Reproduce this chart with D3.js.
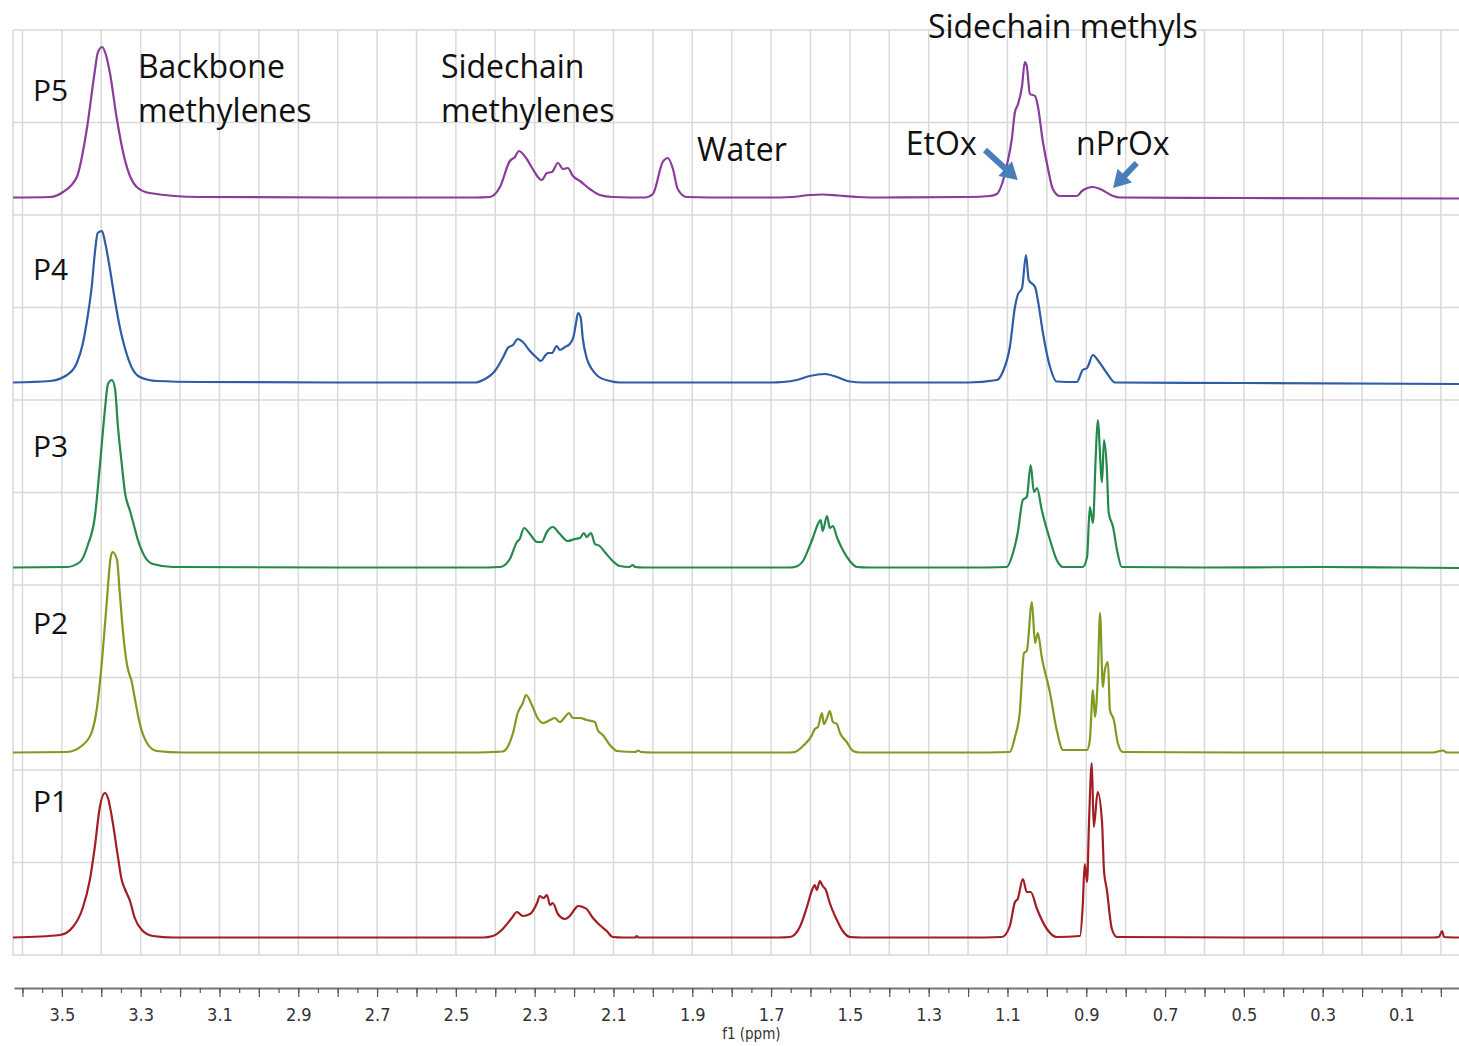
<!DOCTYPE html>
<html><head><meta charset="utf-8">
<script src="https://cdn.jsdelivr.net/npm/d3@7"></script>
<style>
html,body{margin:0;padding:0;background:#fff;}
svg{display:block;}
</style></head>
<body>
<svg id="chart" width="1459" height="1046"></svg>
<script>
// 1H NMR spectra of samples P1–P5 (stacked), points are [shift (ppm), intensity (a.u.)]
const sampleNames = ["P5", "P4", "P3", "P2", "P1"];
const sampleColors = ["#8a3c9c", "#2f5ca6", "#24894b", "#7f9b22", "#a11f22"];

const spectrumP5 = [
  [3.624,0.5],[3.53,1],[3.497,6],[3.462,21],[3.437,68],[3.416,128],[3.409,145],[3.398,151],[3.388,143],
  [3.378,125],[3.360,78],[3.340,38],[3.310,11],[3.277,5],[3.150,1],[2.80,0.5],[2.45,0.5],
  [2.414,1],[2.388,11],[2.363,37],[2.350,41],[2.340,47],[2.320,39],[2.305,29],[2.282,18],[2.269,25],
  [2.256,26],[2.241,35],[2.228,29],[2.216,30],[2.203,22],[2.185,17],[2.160,9],[2.135,3],[2.102,1],[2.02,0.5],
  [2.000,4],[1.975,36],[1.962,40],[1.949,29],[1.937,9],[1.914,1],[1.80,0.5],
  [1.70,0.5],[1.65,1],[1.60,3],[1.57,3.5],[1.53,2.5],[1.48,1],[1.42,0.5],
  [1.20,1],[1.145,2],[1.127,4],[1.114,14],[1.102,32],[1.089,59],[1.081,86],[1.074,93],[1.063,112],
  [1.056,136],[1.051,132],[1.043,104],[1.030,102],[1.023,92],[1.010,56],[0.997,29],[0.985,9],[0.967,2],
  [0.924,2],[0.911,7],[0.883,11],[0.865,9],[0.832,2],[0.815,0.5],[0.50,0],[-0.046,-0.5]
];
const spectrumP4 = [
  [3.624,0.5],[3.53,2],[3.487,8],[3.462,20],[3.447,39],[3.434,68],[3.424,97],[3.416,131],[3.409,150],
  [3.398,152],[3.391,142],[3.378,114],[3.365,82],[3.353,56],[3.340,35],[3.322,15],[3.302,6],[3.259,2],
  [3.150,1],[2.80,0.5],[2.45,0.5],
  [2.431,3],[2.401,12],[2.381,25],[2.368,35],[2.355,38],[2.343,44],[2.330,41],[2.312,32],[2.294,25],
  [2.284,22],[2.274,27],[2.266,30],[2.256,30],[2.244,37],[2.236,33],[2.223,36],[2.211,39],[2.201,47],
  [2.195,60],[2.190,70],[2.183,65],[2.178,45],[2.168,25],[2.155,14],[2.140,7],[2.109,2],[2.084,0.5],
  [1.70,0.5],[1.670,1],[1.635,3],[1.602,7],[1.563,9],[1.533,6],[1.500,1.5],[1.467,0.5],
  [1.20,0.5],[1.127,3],[1.112,11],[1.094,36],[1.081,76],[1.074,88],[1.063,95],[1.053,128],[1.046,103],
  [1.030,96],[1.023,83],[1.010,50],[0.992,16],[0.975,1.5],[0.924,1],[0.909,13],[0.898,15],[0.883,28],
  [0.871,23],[0.848,10],[0.827,0.5],[0.50,0],[-0.046,-1]
];
const spectrumP3 = [
  [3.624,0.5],[3.487,1],[3.454,6],[3.434,23],[3.416,52],[3.404,100],[3.391,157],[3.383,184],[3.373,188],
  [3.365,179],[3.358,143],[3.348,104],[3.340,76],[3.327,57],[3.320,47],[3.307,28],[3.289,11],[3.269,4],
  [3.218,1],[2.80,0.5],[2.45,0.5],
  [2.388,1],[2.363,9],[2.345,26],[2.338,29],[2.327,40],[2.312,34],[2.294,26],[2.282,26],[2.269,36],
  [2.254,41],[2.236,34],[2.216,27],[2.198,29],[2.185,30],[2.175,35],[2.168,31],[2.157,35],[2.147,24],
  [2.135,22],[2.122,16],[2.102,7],[2.084,2],[2.060,1],[2.051,3],[2.045,1],[2.025,0.5],
  [1.652,0.5],[1.640,1],[1.619,7],[1.602,22],[1.594,30],[1.581,44],[1.574,48],[1.569,37],[1.558,52],
  [1.551,40],[1.543,42],[1.533,31],[1.518,18],[1.500,7],[1.482,1],[1.45,0.5],
  [1.20,0.5],[1.102,1],[1.086,15],[1.074,35],[1.061,68],[1.051,71],[1.041,103],[1.033,76],[1.025,80],
  [1.013,58],[0.992,28],[0.975,8],[0.959,1],[0.909,1],[0.898,11],[0.891,61],[0.883,45],[0.876,111],
  [0.871,148],[0.860,86],[0.855,128],[0.848,101],[0.843,55],[0.832,41],[0.822,18],[0.810,1],
  [0.60,0.5],[0.30,1],[0.10,0.5],[-0.046,0]
];
const spectrumP2 = [
  [3.624,0.5],[3.487,1],[3.447,8],[3.424,21],[3.411,45],[3.398,93],[3.386,151],[3.376,196],[3.371,201],
  [3.360,193],[3.353,160],[3.345,122],[3.335,89],[3.322,70],[3.315,55],[3.302,29],[3.284,10],[3.259,2],
  [3.193,0.5],[2.45,0.5],
  [2.406,1],[2.381,1.5],[2.355,20],[2.343,40],[2.330,50],[2.322,58],[2.307,48],[2.294,36],[2.279,30],
  [2.261,33],[2.249,35],[2.236,31],[2.223,36],[2.213,40],[2.203,35],[2.185,35],[2.168,33],[2.147,31],
  [2.140,23],[2.127,18],[2.109,8],[2.091,2],[2.045,1],[2.037,2.5],[2.030,1],[2.00,0.5],
  [1.652,0.5],[1.640,1],[1.619,7],[1.596,18],[1.589,24],[1.581,26],[1.571,40],[1.566,29],[1.558,35],
  [1.551,42],[1.543,31],[1.533,29],[1.525,20],[1.508,11],[1.492,2],[1.475,0.5],
  [1.20,0.5],[1.094,1],[1.081,16],[1.069,40],[1.058,100],[1.051,102],[1.038,151],[1.030,110],[1.023,120],
  [1.013,96],[0.992,60],[0.975,23],[0.959,3],[0.898,3],[0.891,13],[0.883,63],[0.878,36],[0.871,73],
  [0.865,140],[0.858,66],[0.853,83],[0.845,91],[0.840,43],[0.830,33],[0.820,10],[0.807,1],
  [0.50,0.5],[0.02,0.5],[-0.005,2.5],[-0.015,0.5],[-0.046,0.5]
];
const spectrumP1 = [
  [3.624,0.5],[3.505,3],[3.472,11],[3.447,30],[3.429,58],[3.416,92],[3.404,130],[3.391,145],[3.383,140],
  [3.371,116],[3.358,82],[3.348,58],[3.340,49],[3.327,37],[3.315,20],[3.297,8],[3.269,2],[3.218,0.5],
  [2.45,0.5],
  [2.431,0.5],[2.406,2],[2.381,9],[2.358,20],[2.345,26],[2.330,22],[2.312,24],[2.294,35],[2.287,42],
  [2.277,40],[2.269,43],[2.261,33],[2.254,35],[2.241,24],[2.223,19],[2.211,22],[2.198,29],[2.190,32],
  [2.178,31],[2.168,29],[2.152,20],[2.135,13],[2.117,7],[2.102,1],[2.076,0.5],[2.045,0.5],[2.041,2],
  [2.037,0.5],
  [1.680,0.5],[1.652,1],[1.627,11],[1.609,31],[1.596,48],[1.589,53],[1.584,48],[1.576,57],[1.569,52],
  [1.561,48],[1.551,35],[1.533,18],[1.518,7],[1.500,1],[1.47,0.5],
  [1.20,0.5],[1.114,1],[1.094,12],[1.081,36],[1.074,39],[1.061,59],[1.051,46],[1.041,46],[1.025,29],
  [1.000,9],[0.975,1],[0.916,2],[0.909,32],[0.904,74],[0.898,56],[0.893,116],[0.886,175],[0.881,111],
  [0.871,146],[0.860,116],[0.855,67],[0.848,49],[0.835,9],[0.822,1],
  [0.50,0.5],[0.02,0.5],[0.005,1],[-0.003,7],[-0.008,1],[-0.046,0.5]
];
const spectra = [spectrumP5, spectrumP4, spectrumP3, spectrumP2, spectrumP1];

// axis labels
const tickLabels = [3.5, 3.3, 3.1, 2.9, 2.7, 2.5, 2.3, 2.1, 1.9, 1.7, 1.5, 1.3, 1.1, 0.9, 0.7, 0.5, 0.3, 0.1];
const axisTitle = "f1 (ppm)";

// ---- layout ----
const plotLeft = 13, plotRight = 1459, plotTop = 30, plotBottom = 955, axisY = 988;
const svg = d3.select("#chart");

const x = d3.scaleLinear().domain([3.624, -0.046]).range([plotLeft, plotRight]);
const band = d3.scaleBand().domain(sampleNames).range([plotTop, plotBottom]).padding(0);
const bw = band.bandwidth();
// each panel: intensity 0 sits 168 px below its top
const yFor = name => d3.scaleLinear().domain([-(bw - 168), 168]).range([band(name) + bw, band(name)]);

// ---- grid ----
const grid = svg.append("g").attr("stroke", "#d9d9d9").attr("stroke-width", 1.5);
const gridPpm = d3.range(36, -1, -1).map(i => i / 10);
grid.selectAll("line.v").data(gridPpm).join("line").attr("class", "v")
  .attr("x1", d => x(d)).attr("x2", d => x(d)).attr("y1", plotTop).attr("y2", plotBottom);
const hLines = [];
sampleNames.forEach(n => { hLines.push(band(n)); hLines.push(band(n) + bw / 2); });
hLines.push(plotBottom);
grid.selectAll("line.h").data(hLines).join("line").attr("class", "h")
  .attr("x1", plotLeft).attr("x2", plotRight).attr("y1", d => d).attr("y2", d => d);
grid.append("line").attr("x1", plotLeft).attr("x2", plotLeft).attr("y1", plotTop).attr("y2", plotBottom);

// ---- spectra ----
sampleNames.forEach((name, i) => {
  const y = yFor(name);
  const line = d3.line().x(d => x(d[0])).y(d => y(d[1])).curve(d3.curveMonotoneX);
  svg.append("path").datum(spectra[i])
    .attr("fill", "none").attr("stroke", sampleColors[i]).attr("stroke-width", 2.2)
    .attr("stroke-linejoin", "round").attr("d", line);
});

// ---- sample labels ----
const labelFont = "'Open Sans', 'Noto Sans', sans-serif";
const labelBase = { P5: 101, P4: 280, P3: 457, P2: 634, P1: 812 };
svg.append("g").selectAll("text").data(sampleNames).join("text")
  .attr("x", 33).attr("y", d => labelBase[d])
  .attr("font-family", labelFont).attr("font-size", 30).attr("fill", "#111")
  .text(d => d);

// ---- annotations ----
const ann = svg.append("g").attr("font-family", labelFont).attr("font-size", 32).attr("fill", "#111");
[
  ["Backbone", 3.307, 78], ["methylenes", 3.307, 122],
  ["Sidechain", 2.538, 78], ["methylenes", 2.538, 122],
  ["Water", 1.888, 161], ["Sidechain methyls", 1.302, 38],
  ["EtOx", 1.358, 155], ["nPrOx", 0.926, 155]
].forEach(([t, p, yy]) => ann.append("text").attr("x", x(p)).attr("y", yy).text(t));

function arrowPath(x0, y0, x1, y1, sw, hl, hw) {
  const dx = x1 - x0, dy = y1 - y0, L = Math.hypot(dx, dy);
  const ux = dx / L, uy = dy / L, nx = -uy, ny = ux;
  const bx = x1 - ux * hl, by = y1 - uy * hl;
  const pts = [
    [x0 + nx * sw / 2, y0 + ny * sw / 2], [bx + nx * sw / 2, by + ny * sw / 2],
    [bx + nx * hw / 2, by + ny * hw / 2], [x1, y1],
    [bx - nx * hw / 2, by - ny * hw / 2], [bx - nx * sw / 2, by - ny * sw / 2],
    [x0 - nx * sw / 2, y0 - ny * sw / 2]
  ];
  return "M" + pts.map(p => p.join(",")).join("L") + "Z";
}
const yTop = yFor("P5");
svg.append("path").attr("fill", "#4a7ebb")
  .attr("d", arrowPath(x(1.157), yTop(48), x(1.074), yTop(18), 6, 17, 20));
svg.append("path").attr("fill", "#4a7ebb")
  .attr("d", arrowPath(x(0.772), yTop(35), x(0.832), yTop(10), 6, 17, 20));

// ---- x axis ----
const labelSet = new Set(tickLabels.map(v => v.toFixed(1)));
const minorTicks = d3.range(72, -1, -1).map(i => i / 20);
const axisG = svg.append("g").attr("transform", `translate(0,${axisY})`);
axisG.append("g").call(d3.axisBottom(x.copy().range([plotLeft + 1, plotRight])).tickValues([]).tickSizeOuter(0))
  .call(g => g.select(".domain").attr("stroke", "#777").attr("stroke-width", 2));
axisG.append("g").call(d3.axisBottom(x).tickValues(minorTicks).tickSize(5).tickSizeOuter(0).tickFormat(""))
  .call(g => g.select(".domain").remove())
  .call(g => g.selectAll(".tick line").attr("stroke", "#555").attr("stroke-width", 1.2));
axisG.append("g").call(d3.axisBottom(x).tickValues(gridPpm).tickSize(9).tickSizeOuter(0)
    .tickFormat(d => labelSet.has(d.toFixed(1)) ? d.toFixed(1) : ""))
  .call(g => g.select(".domain").remove())
  .call(g => g.selectAll(".tick line").attr("stroke", "#555").attr("stroke-width", 1.2))
  .call(g => g.selectAll(".tick text").attr("y", 33).attr("dy", null)
    .attr("font-family", "'DejaVu Sans Condensed', 'DejaVu Sans', sans-serif")
    .attr("font-stretch", "condensed").attr("font-size", 18).attr("fill", "#333"));
svg.append("text").attr("x", x(1.75)).attr("y", 1039).attr("text-anchor", "middle")
  .attr("font-family", "'DejaVu Sans Condensed', 'DejaVu Sans', sans-serif").attr("font-stretch", "condensed")
  .attr("font-size", 15).attr("fill", "#333").text(axisTitle);
</script>
</body></html>
